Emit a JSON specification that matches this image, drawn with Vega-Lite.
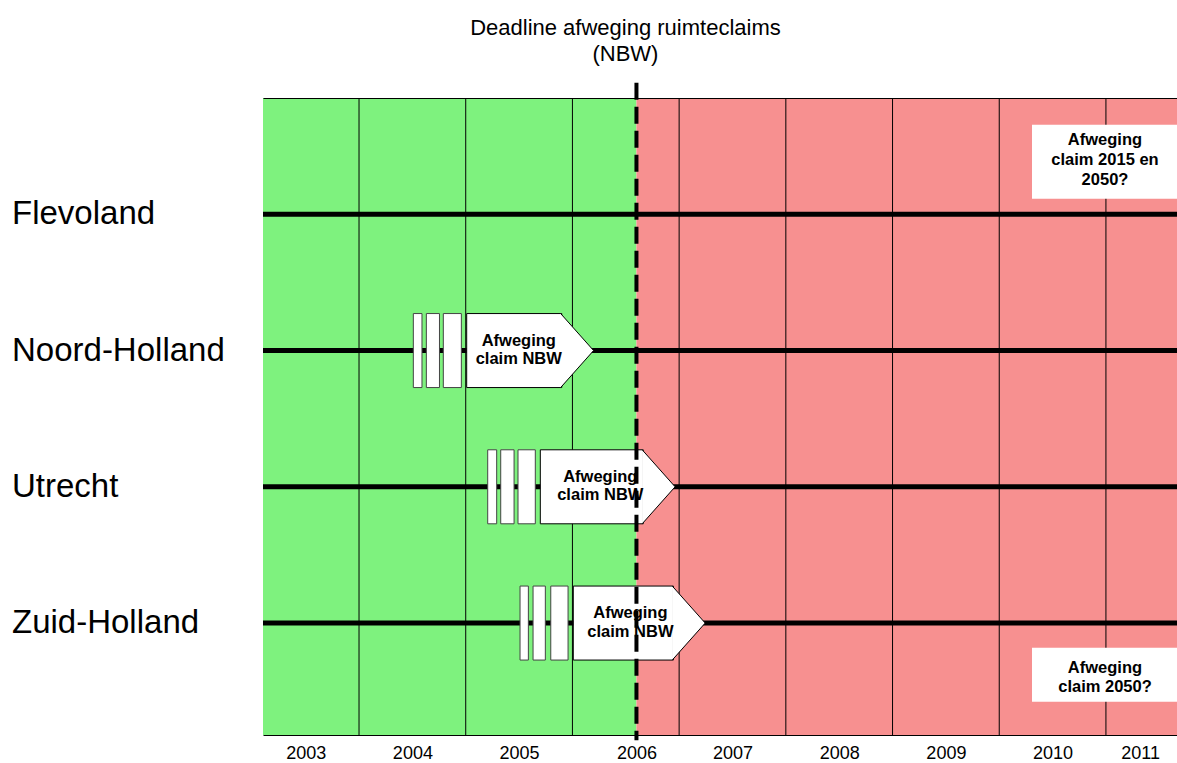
{
  "$schema": "https://vega.github.io/schema/vega-lite/v6.json",
  "width": 914,
  "height": 637,
  "autosize": "none",
  "padding": {"left": 263, "top": 98, "right": 0, "bottom": 28},
  "config": {"view": {"stroke": null}, "font": "Liberation Sans", "text": {"font": "Liberation Sans"}},
  "datasets": {
    "perioden": [
      {"periode": "voor deadline", "van": 2002.6, "tot": 2006.1},
      {"periode": "na deadline", "van": 2006.1, "tot": 2011.166}
    ],
    "jaargrenzen": [
      {"grens": 2003.5}, {"grens": 2004.5}, {"grens": 2005.5}, {"grens": 2006.5},
      {"grens": 2007.5}, {"grens": 2008.5}, {"grens": 2009.5}, {"grens": 2010.5}
    ],
    "provincies": [
      {"provincie": "Flevoland", "baan": 1},
      {"provincie": "Noord-Holland", "baan": 2},
      {"provincie": "Utrecht", "baan": 3},
      {"provincie": "Zuid-Holland", "baan": 4}
    ],
    "fasen": [
      {"provincie": "Noord-Holland", "baan": 2, "van": 2004.009, "tot": 2004.09},
      {"provincie": "Noord-Holland", "baan": 2, "van": 2004.131, "tot": 2004.254},
      {"provincie": "Noord-Holland", "baan": 2, "van": 2004.29, "tot": 2004.459},
      {"provincie": "Utrecht", "baan": 3, "van": 2004.706, "tot": 2004.79},
      {"provincie": "Utrecht", "baan": 3, "van": 2004.828, "tot": 2004.953},
      {"provincie": "Utrecht", "baan": 3, "van": 2004.99, "tot": 2005.152},
      {"provincie": "Zuid-Holland", "baan": 4, "van": 2005.009, "tot": 2005.087},
      {"provincie": "Zuid-Holland", "baan": 4, "van": 2005.131, "tot": 2005.246},
      {"provincie": "Zuid-Holland", "baan": 4, "van": 2005.297, "tot": 2005.459}
    ],
    "afwegingen": [
      {"provincie": "Noord-Holland", "baan": 2, "van": 2004.509, "tot": 2005.4, "tekst": "Afweging\nclaim NBW"},
      {"provincie": "Utrecht", "baan": 3, "van": 2005.199, "tot": 2006.164, "tekst": "Afweging\nclaim NBW"},
      {"provincie": "Zuid-Holland", "baan": 4, "van": 2005.508, "tot": 2006.446, "tekst": "Afweging\nclaim NBW"}
    ],
    "vragen": [
      {"vak": "boven", "baan": 0.615, "van": 2009.807, "tot": 2011.3, "tekst": "Afweging\nclaim 2015 en\n2050?"},
      {"vak": "onder", "baan": 4.38, "van": 2009.807, "tot": 2011.3, "tekst": "Afweging\nclaim 2050?"}
    ],
    "deadline": [
      {"gebeurtenis": "Deadline afweging ruimteclaims\n(NBW)", "jaar": 2006.1}
    ]
  },
  "layer": [
    {
      "data": {"name": "perioden"},
      "mark": {"type": "rect"},
      "encoding": {
        "x": {
          "field": "van", "type": "quantitative",
          "scale": {"domain": [2002.6, 2011.166], "nice": false, "zero": false},
          "axis": {
            "orient": "bottom", "title": null,
            "values": [2003, 2004, 2005, 2006.1, 2007, 2008, 2009, 2010, 2010.82],
            "labelExpr": "format(round(datum.value), 'd')",
            "ticks": false, "tickSize": 0, "grid": false,
            "domain": true, "domainColor": "black", "domainWidth": 1,
            "labelFontSize": 18, "labelColor": "black", "labelFont": "Liberation Sans",
            "labelPadding": 9, "labelOverlap": false, "labelFlush": false, "zindex": 1
          }
        },
        "x2": {"field": "tot"},
        "color": {
          "field": "periode", "type": "nominal",
          "scale": {"domain": ["voor deadline", "na deadline"], "range": ["#7ef27e", "#f79090"]},
          "legend": null
        }
      }
    },
    {
      "data": {"name": "jaargrenzen"},
      "mark": {"type": "rule", "color": "black", "strokeWidth": 1},
      "encoding": {
        "x": {
          "field": "grens", "type": "quantitative",
          "axis": {
            "orient": "top", "title": null, "labels": false, "ticks": false, "tickSize": 0,
            "grid": false, "domain": true, "domainColor": "black", "domainWidth": 1, "zindex": 1
          }
        }
      }
    },
    {
      "data": {"name": "provincies"},
      "mark": {"type": "rule", "color": "black", "strokeWidth": 5},
      "encoding": {
        "y": {
          "field": "baan", "type": "quantitative",
          "scale": {"domain": [0.183, 4.785], "reverse": true, "nice": false, "zero": false},
          "axis": {
            "title": null, "values": [1, 2, 3, 4], "labels": false,
            "ticks": false, "tickSize": 0, "grid": false,
            "domain": true, "domainColor": "black", "domainWidth": 1, "zindex": 1
          }
        }
      }
    },
    {
      "data": {"name": "provincies"},
      "mark": {"type": "text", "align": "left", "baseline": "middle", "dx": -251, "dy": 0, "fontSize": 33, "color": "black", "font": "Liberation Sans"},
      "encoding": {
        "x": {"datum": 2002.6, "type": "quantitative", "axis": null},
        "y": {"field": "baan", "type": "quantitative", "axis": null},
        "text": {"field": "provincie"}
      }
    },
    {
      "data": {"name": "fasen"},
      "mark": {"type": "bar", "orient": "horizontal", "height": 74, "fill": "white", "stroke": "#444444", "strokeWidth": 1},
      "encoding": {
        "x": {"field": "van", "type": "quantitative", "axis": null},
        "x2": {"field": "tot"},
        "y": {"field": "baan", "type": "quantitative", "axis": null}
      }
    },
    {
      "data": {"name": "afwegingen"},
      "mark": {"type": "bar", "orient": "horizontal", "height": 74, "fill": "white", "stroke": "black", "strokeWidth": 1},
      "encoding": {
        "x": {"field": "van", "type": "quantitative", "axis": null},
        "x2": {"field": "tot"},
        "y": {"field": "baan", "type": "quantitative", "axis": null}
      }
    },
    {
      "data": {"name": "afwegingen"},
      "mark": {"type": "point", "shape": "M-0.03,-1L0.86,0L-0.03,1", "size": 5476, "filled": true, "fill": "white", "stroke": "black", "strokeWidth": 1, "opacity": 1},
      "encoding": {
        "x": {"field": "tot", "type": "quantitative", "axis": null},
        "y": {"field": "baan", "type": "quantitative", "axis": null}
      }
    },
    {
      "data": {"name": "afwegingen"},
      "mark": {"type": "text", "align": "center", "baseline": "middle", "dx": -43, "dy": -10, "fontSize": 16.5, "fontWeight": "bold", "lineHeight": 18.5, "lineBreak": "\n", "color": "black", "font": "Liberation Sans"},
      "encoding": {
        "x": {"field": "tot", "type": "quantitative", "axis": null},
        "y": {"field": "baan", "type": "quantitative", "axis": null},
        "text": {"field": "tekst"}
      }
    },
    {
      "data": {"name": "vragen"},
      "transform": [{"filter": "datum.vak == 'boven'"}],
      "mark": {"type": "bar", "orient": "horizontal", "height": 74, "fill": "white", "clip": true},
      "encoding": {
        "x": {"field": "van", "type": "quantitative", "axis": null},
        "x2": {"field": "tot"},
        "y": {"field": "baan", "type": "quantitative", "axis": null}
      }
    },
    {
      "data": {"name": "vragen"},
      "transform": [{"filter": "datum.vak == 'onder'"}],
      "mark": {"type": "bar", "orient": "horizontal", "height": 54, "fill": "white", "clip": true},
      "encoding": {
        "x": {"field": "van", "type": "quantitative", "axis": null},
        "x2": {"field": "tot"},
        "y": {"field": "baan", "type": "quantitative", "axis": null}
      }
    },
    {
      "data": {"name": "vragen"},
      "transform": [{"filter": "datum.vak == 'boven'"}],
      "mark": {"type": "text", "align": "center", "baseline": "middle", "dx": 73, "dy": -22, "fontSize": 16.5, "fontWeight": "bold", "lineHeight": 20, "lineBreak": "\n", "color": "black", "font": "Liberation Sans"},
      "encoding": {
        "x": {"field": "van", "type": "quantitative", "axis": null},
        "y": {"field": "baan", "type": "quantitative", "axis": null},
        "text": {"field": "tekst"}
      }
    },
    {
      "data": {"name": "vragen"},
      "transform": [{"filter": "datum.vak == 'onder'"}],
      "mark": {"type": "text", "align": "center", "baseline": "middle", "dx": 73, "dy": -7, "fontSize": 16.5, "fontWeight": "bold", "lineHeight": 19, "lineBreak": "\n", "color": "black", "font": "Liberation Sans"},
      "encoding": {
        "x": {"field": "van", "type": "quantitative", "axis": null},
        "y": {"field": "baan", "type": "quantitative", "axis": null},
        "text": {"field": "tekst"}
      }
    },
    {
      "data": {"name": "deadline"},
      "mark": {"type": "rule", "color": "black", "strokeWidth": 4, "strokeDash": [17, 7]},
      "encoding": {
        "x": {"field": "jaar", "type": "quantitative", "axis": null},
        "y": {"datum": 0.034, "type": "quantitative", "axis": null},
        "y2": {"datum": 4.86}
      }
    },
    {
      "data": {"name": "deadline"},
      "mark": {"type": "text", "align": "center", "baseline": "middle", "dx": -11, "dy": -15, "fontSize": 22, "lineHeight": 26, "lineBreak": "\n", "color": "black", "font": "Liberation Sans"},
      "encoding": {
        "x": {"field": "jaar", "type": "quantitative", "axis": null},
        "y": {"datum": -0.257, "type": "quantitative", "axis": null},
        "text": {"field": "gebeurtenis"}
      }
    }
  ],
  "resolve": {"axis": {"x": "independent"}}
}
